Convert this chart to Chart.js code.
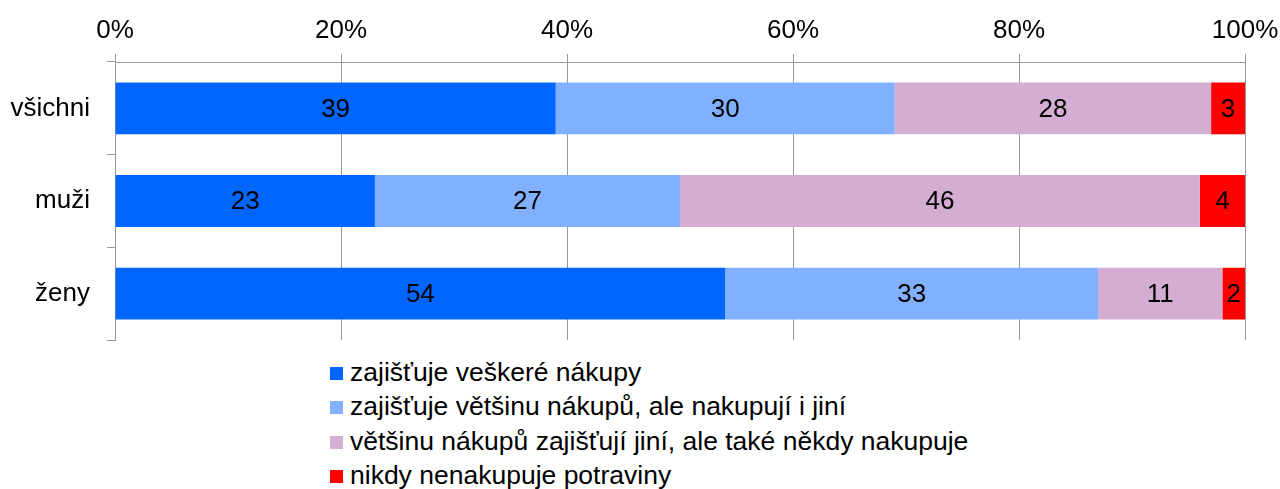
<!DOCTYPE html>
<html>
<head>
<meta charset="utf-8">
<script src="https://cdn.jsdelivr.net/npm/chart.js@4/dist/chart.umd.min.js"></script>
<style>
  body { margin: 0; background: #fff; font-family: "Liberation Sans", Arial, sans-serif; }
  #wrap { position: relative; width: 1280px; height: 345px; }
  #legend { position: absolute; left: 330px; top: 355px; font-size: 26.5px; color: #000; }
  .item { height: 34.3px; line-height: 34px; white-space: nowrap; }
  .box { display: inline-block; width: 13px; height: 13px; margin-right: 7px; vertical-align: 1px; }
</style>
</head>
<body>
<div id="wrap"><canvas id="chart"></canvas></div>
<div id="legend"></div>
<script>
const categories = ["všichni", "muži", "ženy"];

const seriesNames = [
    "zajišťuje veškeré nákupy",
    "zajišťuje většinu nákupů, ale nakupují i jiní",
    "většinu nákupů zajišťují jiní, ale také někdy nakupuje",
    "nikdy nenakupuje potraviny"
];

const allShopping = [39, 23, 54];
const mostShopping = [30, 27, 33];
const othersMostly = [28, 46, 11];
const neverShopping = [3, 4, 2];

const colors = ["#0066ff", "#80b0ff", "#d3aed2", "#ff0000"];

const percentTicks = [0, 20, 40, 60, 80, 100];

const seriesValues = [allShopping, mostShopping, othersMostly, neverShopping];

const font = { family: "'Liberation Sans', Arial, sans-serif", size: 26 };

// labels inside the bar segments
const valueLabels = {
    id: "valueLabels",
    afterDatasetsDraw(chart) {
        const ctx = chart.ctx;
        ctx.save();
        ctx.font = font.size + "px " + font.family;
        ctx.fillStyle = "#000";
        ctx.textAlign = "center";
        ctx.textBaseline = "middle";
        chart.data.datasets.forEach((ds, i) => {
            chart.getDatasetMeta(i).data.forEach((bar, j) => {
                const x = (bar.x + bar.base) / 2;
                ctx.fillText(ds.data[j], x, bar.y + 1);
            });
        });
        ctx.restore();
    }
};

new Chart(document.getElementById("chart"), {
    type: "bar",
    data: {
        labels: categories,
        datasets: seriesNames.map((name, i) => ({
            label: name,
            data: seriesValues[i],
            backgroundColor: colors[i],
            barPercentage: 0.56,
            categoryPercentage: 1
        }))
    },
    options: {
        indexAxis: "y",
        responsive: true,
        maintainAspectRatio: false,
        animation: false,
        layout: { padding: { left: 0, right: 35, top: 0, bottom: 5 } },
        plugins: {
            legend: { display: false },
            tooltip: { enabled: false }
        },
        scales: {
            x: {
                position: "top",
                stacked: true,
                min: 0,
                max: 100,
                afterBuildTicks: scale => {
                    scale.ticks = percentTicks.map(v => ({ value: v }));
                },
                afterFit: scale => {
                    scale.height = 62;
                    scale.paddingLeft = 0;
                    scale.paddingRight = 0;
                },
                ticks: {
                    color: "#000",
                    font: font,
                    padding: 8,
                    callback: v => v + "%"
                },
                grid: { color: "#999", tickLength: 8, lineWidth: 1 },
                border: { color: "#999" }
            },
            y: {
                stacked: true,
                afterFit: scale => {
                    scale.width = 115;
                    scale.paddingTop = 0;
                    scale.paddingBottom = 0;
                },
                ticks: { color: "#000", font: font, padding: 17 },
                grid: { drawOnChartArea: false, color: "#999", tickLength: 8 },
                border: { color: "#999" }
            }
        }
    },
    plugins: [valueLabels]
});

const legend = document.getElementById("legend");
seriesNames.forEach((name, i) => {
    const div = document.createElement("div");
    div.className = "item";
    div.innerHTML = `<span class="box" style="background:${colors[i]}"></span>${name}`;
    legend.appendChild(div);
});
</script>
</body>
</html>
